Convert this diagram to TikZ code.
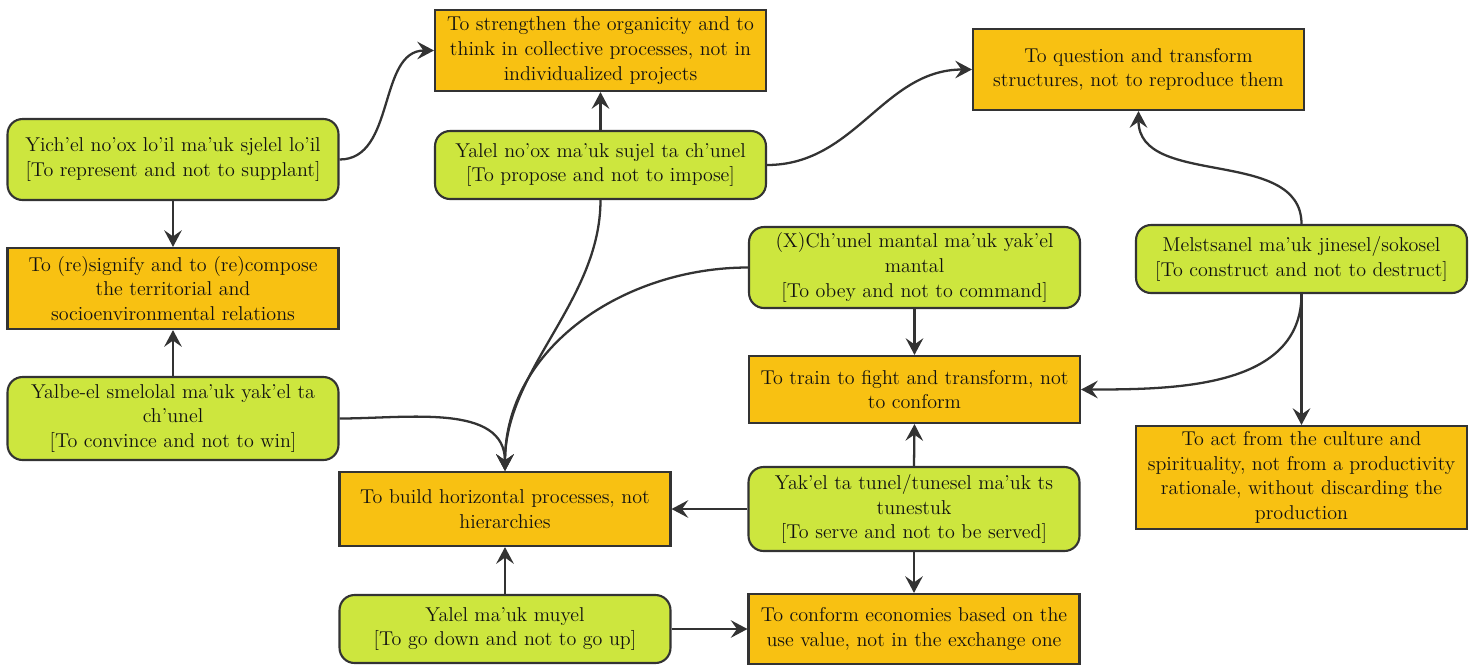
\documentclass[tikz,border=0pt]{standalone}
\usetikzlibrary{arrows.meta}
\definecolor{gfill}{HTML}{CDE63E}
\definecolor{ofill}{HTML}{F8C112}
\definecolor{edgec}{HTML}{333333}
\definecolor{txtc}{HTML}{111111}
\tikzset{
  basebox/.style={draw=edgec, line width=1.2pt, minimum width=6.62cm, inner sep=0pt,
    align=center, text=txtc, font=\rmfamily\fontsize{11.4}{14}\selectfont},
  gbox/.style={basebox, fill=gfill, rounded corners=0.3cm},
  obox/.style={basebox, fill=ofill},
  conn/.style={draw=edgec, line width=1.3pt, -{Stealth[length=9.5pt,width=10pt,inset=3.5pt]}},
}
\begin{document}
\begin{tikzpicture}[x=0.02cm,y=-0.02cm]
\useasboundingbox (0,0) rectangle (1475,664);
% nodes
\node[gbox, minimum height=1.62cm] (yich) at (173,159.5) {Yich’el no’ox lo’il ma’uk sjelel lo’il\\{}[To represent and not to supplant]};
\node[obox, minimum height=1.62cm] (resig) at (173,288.5) {To (re)signify and to (re)compose\\the territorial and\\socioenvironmental relations};
\node[gbox, minimum height=1.66cm] (yalbe) at (173,418.5) {Yalbe-el smelolal ma’uk yak’el ta\\ch’unel\\{}[To convince and not to win]};
\node[obox, minimum height=1.62cm] (streng) at (600.5,50.5) {To strengthen the organicity and to\\think in collective processes, not in\\individualized projects};
\node[gbox, minimum height=1.36cm] (propose) at (600.5,165) {Yalel no’ox ma’uk sujel ta ch’unel\\{}[To propose and not to impose]};
\node[obox, minimum height=1.62cm] (quest) at (1138.5,69.5) {To question and transform\\structures, not to reproduce them};
\node[gbox, minimum height=1.36cm] (melst) at (1301.5,259) {Melstsanel ma’uk jinesel/sokosel\\{}[To construct and not to destruct]};
\node[gbox, minimum height=1.62cm] (xchunel) at (914.5,267.5) {(X)Ch’unel mantal ma’uk yak’el\\mantal\\{}[To obey and not to command]};
\node[obox, minimum height=1.34cm] (train) at (914.5,389.5) {To train to fight and transform, not\\to conform};
\node[obox, minimum height=2.06cm] (act) at (1301.5,477.5) {To act from the culture and\\spirituality, not from a productivity\\rationale, without discarding the\\production};
\node[obox, minimum height=1.48cm] (build) at (505,509) {To build horizontal processes, not\\hierarchies};
\node[gbox, minimum height=1.68cm] (yakel) at (914,509) {Yak’el ta tunel/tunesel ma’uk ts\\tunestuk\\{}[To serve and not to be served]};
\node[gbox, minimum height=1.36cm] (muyel) at (505,629) {Yalel ma’uk muyel\\{}[To go down and not to go up]};
\node[obox, minimum height=1.40cm] (conform) at (914,629) {To conform economies based on the\\use value, not in the exchange one};
% connectors
\draw[conn] (yich.east) to[out=0,in=180] (streng.west);
\draw[conn] (yich.south) -- (resig.north);
\draw[conn] (yalbe.north) -- (resig.south);
\draw[conn] (propose.north) -- (streng.south);
\draw[conn] (propose.east) to[out=0,in=180] (quest.west);
\draw[conn] (melst.north) to[out=90,in=-90] (quest.south);
\draw[conn] (melst.south) to[out=-90,in=0] (train.east);
\draw[conn] (melst.south) -- (act.north);
\draw[conn] (xchunel.south) -- (train.north);
\draw[conn] (yakel.north) -- (train.south);
\draw[conn] (yakel.south) -- (conform.north);
\draw[conn] (yakel.west) -- (build.east);
\draw[conn] (muyel.north) -- (build.south);
\draw[conn] (muyel.east) -- (conform.west);
\draw[conn] (propose.south) to[out=-90,in=90,looseness=0.9] (build.north);
\draw[conn] (xchunel.west) to[out=180,in=90] (build.north);
\draw[conn] (yalbe.east) to[out=0,in=90] (build.north);
\end{tikzpicture}
\end{document}
